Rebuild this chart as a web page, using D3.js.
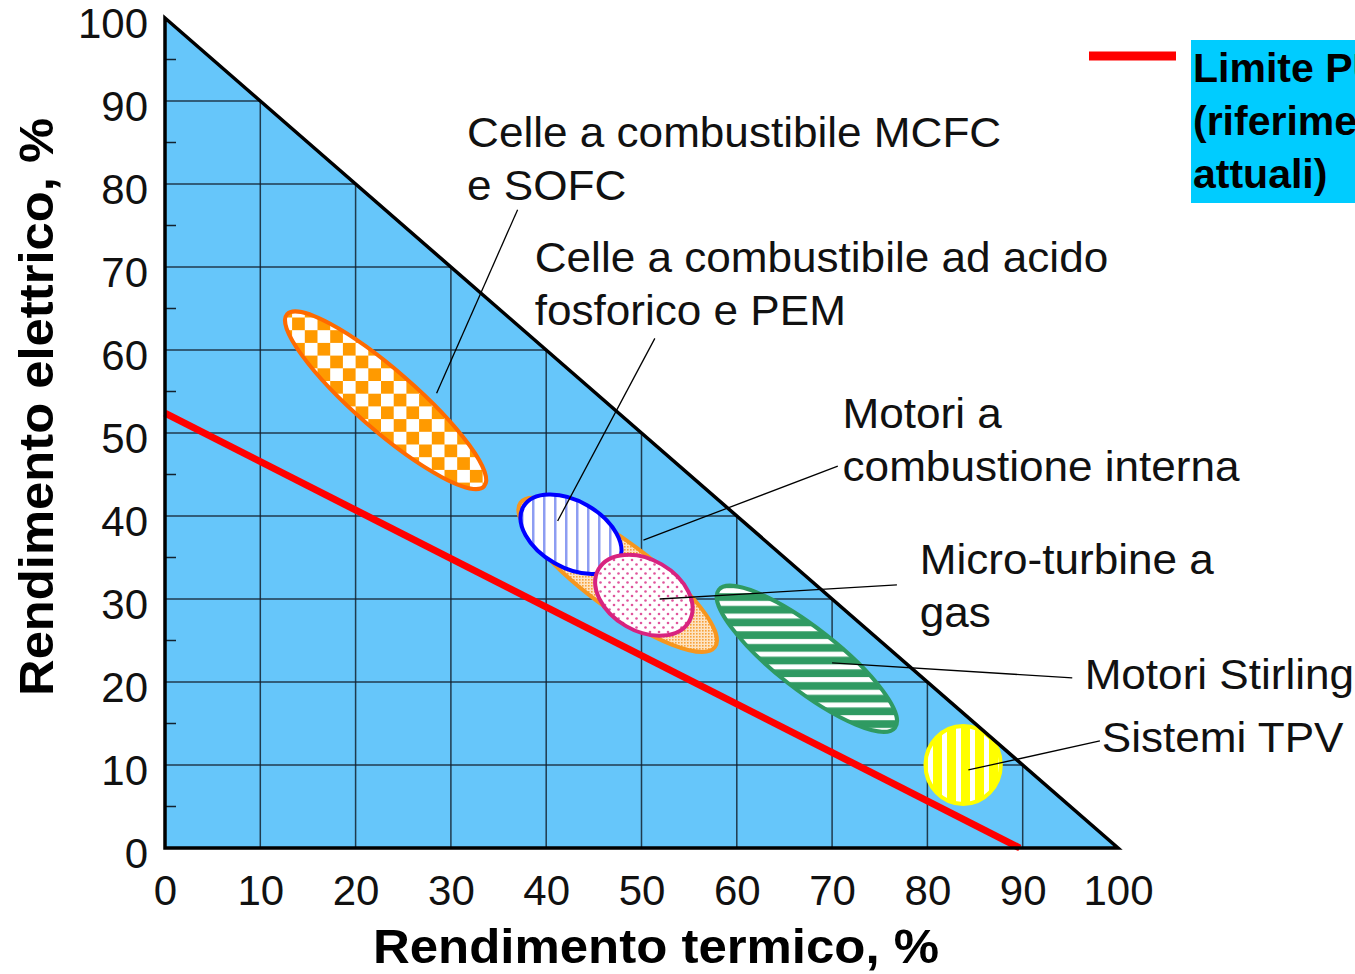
<!DOCTYPE html>
<html>
<head>
<meta charset="utf-8">
<script src="https://cdn.jsdelivr.net/npm/d3@7"></script>
<style>
  html, body { margin: 0; padding: 0; background: #fff; overflow: hidden; }
  svg { display: block; font-family: Arial, "Liberation Sans", sans-serif; }
</style>
</head>
<body>
<svg id="chart" width="1355" height="974"></svg>
<script>
// ---------------- DATA ----------------
const xTicks = [0, 10, 20, 30, 40, 50, 60, 70, 80, 90, 100];
const yTicks = [0, 10, 20, 30, 40, 50, 60, 70, 80, 90, 100];
const yMinorTicks = [5, 15, 25, 35, 45, 55, 65, 75, 85, 95];
const gridValues = [10, 20, 30, 40, 50, 60, 70, 80, 90];

// feasible region: thermal + electric <= 100
const triangle = [[0, 0], [0, 100], [100, 0]];

// limit line (rendimento termico, rendimento elettrico)
const limitLine = [[0, 52.4], [89.7, 0]];

// technology regions: major-axis endpoints (termico, elettrico) and half-width (electric points)
const techNames  = ["Motori a combustione interna", "MCFC/SOFC", "Acido fosforico/PEM", "Micro-turbine", "Stirling", "TPV"];
const techStart  = [[37.3, 41.6], [12.8, 64.3], [37.6, 41.1], [45.5, 33.6], [58.1, 31.1], [79.8, 10.0]];
const techEnd    = [[57.7, 24.2], [33.5, 43.6], [47.6, 34.5], [55.0, 27.3], [76.6, 14.5], [87.7, 10.0]];
const techHalfW  = [4.0, 3.6, 4.0, 4.3, 3.7, 4.7];
const techFill   = ["url(#pOrangeFine)", "url(#pChecker)", "url(#pBlueStripes)", "url(#pPinkDots)", "url(#pGreenStripes)", "url(#pYellowStripes)"];
const techStroke = ["#f7961e", "#ff6a00", "#0000ff", "#d8237f", "#2f9a62", "#ffff00"];

// annotations: text lines, anchor (termico, elettrico) for first baseline, leader line from/to
const annLines = [
  ["Celle a combustibile MCFC", "e SOFC"],
  ["Celle a combustibile ad acido", "fosforico e PEM"],
  ["Motori a", "combustione interna"],
  ["Micro-turbine a", "gas"],
  ["Motori Stirling"],
  ["Sistemi TPV"]
];
const annAnchor = [[31.7, 84.5], [38.8, 69.4], [71.1, 50.6], [79.2, 33.0], [96.5, 19.2], [98.3, 11.6]];
const annLeaderFrom = [[37.0, 76.9], [51.4, 61.4], [70.6, 46.0], [76.8, 31.7], [95.2, 20.5], [98.1, 12.9]];
const annLeaderTo   = [[28.5, 54.8], [41.2, 39.4], [50.2, 37.1], [51.9, 30.0], [70.0, 22.3], [84.3, 9.4]];

const legendLines = ["Limite PURPA", "(riferimenti", "attuali)"];
const xTitle = "Rendimento termico, %";
const yTitle = "Rendimento elettrico, %";

// ---------------- CHART ----------------
const svg = d3.select("#chart");
const x = d3.scaleLinear().domain([0, 100]).range([165, 1118]);
const y = d3.scaleLinear().domain([0, 100]).range([848, 18]);
const SX = 1.05; // horizontal text stretch of the original picture

// patterns
const defs = svg.append("defs");
function pattern(id, w, h) {
  return defs.append("pattern").attr("id", id).attr("patternUnits", "userSpaceOnUse")
    .attr("width", w).attr("height", h);
}
let p = pattern("pChecker", 25.4, 25.4);
p.append("rect").attr("width", 25.4).attr("height", 25.4).attr("fill", "#ffffff");
p.append("rect").attr("width", 12.7).attr("height", 12.7).attr("fill", "#ff9a00");
p.append("rect").attr("x", 12.7).attr("y", 12.7).attr("width", 12.7).attr("height", 12.7).attr("fill", "#ff9a00");

p = pattern("pOrangeFine", 3, 3);
p.append("rect").attr("width", 3).attr("height", 3).attr("fill", "#fde3c2");
p.append("rect").attr("width", 1.6).attr("height", 1.6).attr("fill", "#f7a13a");

p = pattern("pBlueStripes", 11, 10);
p.append("rect").attr("width", 11).attr("height", 10).attr("fill", "#ffffff");
p.append("rect").attr("x", 4).attr("width", 2.5).attr("height", 10).attr("fill", "#8d9df2");

p = pattern("pPinkDots", 9, 9);
p.append("rect").attr("width", 9).attr("height", 9).attr("fill", "#ffffff");
p.append("circle").attr("cx", 2).attr("cy", 2).attr("r", 1.3).attr("fill", "#e0559c");
p.append("circle").attr("cx", 6.5).attr("cy", 6.5).attr("r", 1.3).attr("fill", "#e0559c");

p = pattern("pGreenStripes", 10, 12.7);
p.append("rect").attr("width", 10).attr("height", 12.7).attr("fill", "#2f9a62");
p.append("rect").attr("y", 4).attr("width", 10).attr("height", 5).attr("fill", "#ffffff");

p = pattern("pYellowStripes", 14, 10);
p.append("rect").attr("width", 14).attr("height", 10).attr("fill", "#ffff00");
p.append("rect").attr("x", 4).attr("width", 5).attr("height", 10).attr("fill", "#ffffff");

// triangle fill
const triPath = d3.line().x(d => x(d[0])).y(d => y(d[1]));
svg.append("path").attr("d", triPath(triangle) + "Z").attr("fill", "#66c6fa").attr("stroke", "none");

// grid
const grid = svg.append("g").attr("stroke", "#13222f").attr("stroke-width", 1.5).attr("stroke-opacity", 0.85);
grid.selectAll(".gv").data(gridValues).join("line")
  .attr("x1", d => x(d)).attr("x2", d => x(d))
  .attr("y1", y(0)).attr("y2", d => y(100 - d));
grid.selectAll(".gh").data(gridValues).join("line")
  .attr("y1", d => y(d)).attr("y2", d => y(d))
  .attr("x1", x(0)).attr("x2", d => x(100 - d));

// minor ticks (inward)
svg.append("g").attr("stroke", "#13222f").attr("stroke-width", 1.5)
  .selectAll("line").data(yMinorTicks).join("line")
  .attr("x1", x(0)).attr("x2", x(0) + 11)
  .attr("y1", d => y(d)).attr("y2", d => y(d));

// technology ellipses (as arc paths, so the fill patterns stay upright)
const techs = techNames.map((n, i) => ({
  name: n, s: techStart[i], e: techEnd[i], hw: techHalfW[i], fill: techFill[i], stroke: techStroke[i]
}));
function ellipsePath(d) {
  const x1 = x(d.s[0]), y1 = y(d.s[1]), x2 = x(d.e[0]), y2 = y(d.e[1]);
  const rx = Math.hypot(x2 - x1, y2 - y1) / 2;
  const ry = y(0) - y(d.hw);
  const ang = Math.atan2(y2 - y1, x2 - x1) * 180 / Math.PI;
  return `M${x1},${y1}A${rx},${ry},${ang},0,1,${x2},${y2}A${rx},${ry},${ang},0,1,${x1},${y1}Z`;
}
svg.append("g").selectAll("path").data(techs).join("path")
  .attr("d", ellipsePath)
  .attr("fill", d => d.fill)
  .attr("stroke", d => d.stroke)
  .attr("stroke-width", 4);

// limit line
svg.append("path").attr("d", triPath(limitLine))
  .attr("stroke", "#ff0000").attr("stroke-width", 7).attr("fill", "none");

// triangle outline
svg.append("path").attr("d", triPath(triangle) + "Z")
  .attr("fill", "none").attr("stroke", "#000").attr("stroke-width", 3.5)
  .attr("stroke-linejoin", "miter");

// axes (labels only)
const xAxis = d3.axisBottom(x).tickValues(xTicks).tickSize(0).tickPadding(0);
const gx = svg.append("g").attr("transform", `translate(0,${y(0)})`).call(xAxis);
gx.select(".domain").remove();
gx.selectAll("text").attr("font-size", 42).attr("fill", "#111").attr("dy", null)
  .attr("y", 57).attr("font-family", "Arial, 'Liberation Sans', sans-serif");

const yAxis = d3.axisLeft(y).tickValues(yTicks).tickSize(0).tickPadding(0);
const gy = svg.append("g").attr("transform", `translate(${x(0)},0)`).call(yAxis);
gy.select(".domain").remove();
gy.selectAll("text").attr("font-size", 42).attr("fill", "#111")
  .attr("x", -17).attr("dy", "0.47em")
  .attr("font-family", "Arial, 'Liberation Sans', sans-serif");

// axis titles
svg.append("text").attr("transform", `translate(656,963) scale(1.04,1)`)
  .attr("text-anchor", "middle").attr("font-weight", "bold").attr("font-size", 49)
  .attr("fill", "#000").text(xTitle);
svg.append("text").attr("transform", `translate(53,407) rotate(-90) scale(1.036,1)`)
  .attr("text-anchor", "middle").attr("font-weight", "bold").attr("font-size", 49)
  .attr("fill", "#000").text(yTitle);

// leader lines
svg.append("g").attr("stroke", "#000").attr("stroke-width", 1.3)
  .selectAll("line").data(annLeaderFrom).join("line")
  .attr("x1", d => x(d[0])).attr("y1", d => y(d[1]))
  .attr("x2", (d, i) => x(annLeaderTo[i][0])).attr("y2", (d, i) => y(annLeaderTo[i][1]));

// annotation texts (stretched horizontally like the original)
const ann = svg.append("g").attr("font-size", 42).attr("fill", "#111")
  .attr("transform", `scale(${SX},1)`);
annLines.forEach((lines, i) => {
  const ax = x(annAnchor[i][0]) / SX;
  const t = ann.append("text").attr("x", ax).attr("y", y(annAnchor[i][1]));
  lines.forEach((l, j) => {
    t.append("tspan").attr("x", ax).attr("dy", j === 0 ? 0 : 53).text(l);
  });
});

// legend
svg.append("rect").attr("x", 1089).attr("y", 51.5).attr("width", 87).attr("height", 9).attr("fill", "#ff0000");
svg.append("rect").attr("x", 1191).attr("y", 40).attr("width", 200).attr("height", 163).attr("fill", "#00ccff");
const lt = svg.append("text").attr("font-size", 41).attr("font-weight", "bold").attr("fill", "#000");
legendLines.forEach((l, j) => {
  lt.append("tspan").attr("x", 1193).attr("y", 82 + j * 53).text(l);
});
</script>
</body>
</html>
